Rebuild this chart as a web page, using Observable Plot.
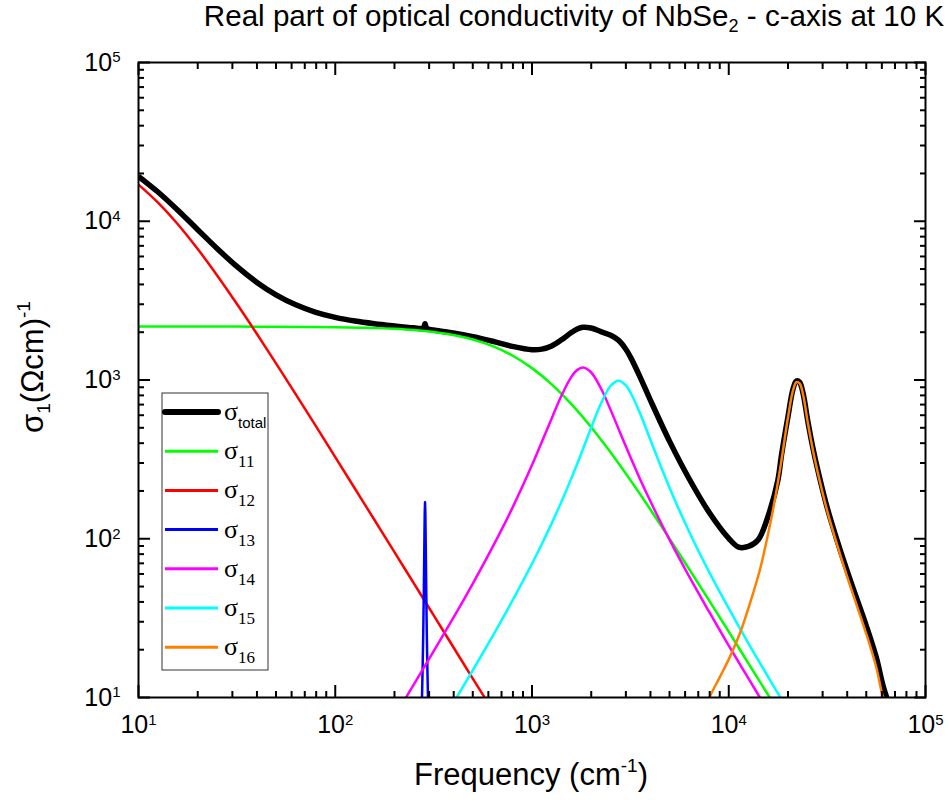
<!DOCTYPE html>
<html><head><meta charset="utf-8">
<script src="https://cdn.jsdelivr.net/npm/d3@7"></script>
<script src="https://cdn.jsdelivr.net/npm/@observablehq/plot@0.6"></script>
<style>body{margin:0;background:#fff}</style>
</head><body><div id="chart"></div>
<script>
// ---- data ----
const freqTotal = [10,12.6,15.8,20,25,31.6,40,50,63,79,100,126,158,200,251,275,282,284,286,288,290,296,316,398,501,631,794,1000,1122,1259,1413,1585,1700,1815,1995,2239,2512,2750,3000,3162,3548,3981,5012,6310,7943,10000,11220,12589,14125,15849,17783,18520,20010,21200,22060,22910,23830,25280,26810,28970,31920,35230,39560,44460,49980,56200,60700,64000];
const sigmaTotal = [19180,15224,11774,8850,6760,5190,4115,3438,2975,2680,2481,2352,2264,2192,2131,2113,2145,2199,2264,2195,2137,2093,2063,1981,1877,1755,1629,1552,1564,1639,1791,1993,2097,2149,2125,2017,1915,1783,1563,1398,1040,755,409,237,147,100.6,88.5,89.5,98.7,139,235,334,590,875,985,968,831,542,370,242,151,101,65,42.8,28.3,17.9,12.0,9.7];

const freq11 = [10,20,50,100,158,200,251,316,398,501,631,794,1000,1259,1585,1995,2512,3162,3981,5012,6310,7943,10000,12589,15849,17783];
const sigma11 = [2170,2170,2166,2152,2126,2100,2063,2005,1919,1798,1633,1427,1188,939,705,506,349,234,154,99.7,64,40.9,26,16.4,10.4,8.3];

const freq12 = [10,12.6,15.8,20,25,31.6,40,50,63,79,100,126,158,200,251,316,398,501,631];
const sigma12 = [17010,13054,9604,6680,4590,3020,1948,1272,812,521,327,206.6,131.7,82.3,52.3,33.0,20.8,13.1,8.3];

const freq13 = [266,272,276,278,280,282,284,285,286,287,288,290,292,294,296,300,306];
const sigma13 = [2.6,5.3,10,15.1,25.1,47.8,103.7,146.6,170,146.6,103.7,47.8,25.1,15.1,10,5.3,2.6];

const freq14 = [200,251,316,398,501,631,794,1000,1259,1413,1585,1700,1815,1995,2239,2512,2818,3162,3548,3981,5012,6310,7943,10000,12589,15849];
const sigma14 = [7.59,12.09,19.5,31.7,52.4,88.9,156,291,573,799,1046,1158,1197,1119,887,646,459,327,236.5,174,98,57.5,34.7,21.2,13.2,8.2];

const freq15 = [398,501,631,794,1000,1122,1259,1413,1585,1815,1995,2239,2512,2750,3000,3162,3548,3981,5012,6310,7943,10000,12589,15849,17783,19953];
const sigma15 = [9.23,14.9,24.4,40.6,69.6,92.6,125,171.8,240,367,498,708,920,990,925,837,613,425,208,110,61.9,36.4,21.9,13.5,10.6,8.3];

const freq16 = [7500,8010,8995,10110,11370,12790,14370,15840,17130,18520,20010,21200,22060,22910,23830,25280,26810,28970,31920,35230,39560,44460,49980,56200,60700,64000];
const sigma16 = [8,10.1,13.4,17.9,25.2,38.9,63.1,107,174,311,582,857,968,953,817,530,359,233,144,95,60,38.9,25.2,15.5,10.1,8.5];

const seriesNames = ["total","11","12","13","14","15","16"];
const seriesColors = ["#000000","#00ff00","#ff0000","#0000ff","#ff00ff","#00ffff","#ff8000"];
const majorTicks = [10,100,1000,10000,100000];
const minorTicks = [];
for (const d of [10,100,1000,10000]) for (let k = 2; k <= 9; k++) minorTicks.push(d*k);

// ---- build tables ----
const pairs = (f, s) => f.map((x, i) => ({f: x, s: s[i]}));
const series = [
  pairs(freqTotal, sigmaTotal), pairs(freq11, sigma11), pairs(freq12, sigma12),
  pairs(freq13, sigma13), pairs(freq14, sigma14), pairs(freq15, sigma15), pairs(freq16, sigma16)
];

const fmt = d => "10^" + Math.round(Math.log10(d));
const none = () => "";

const lineMarks = series.map((data, i) => Plot.line(data, {
  x: "f", y: "s", stroke: seriesColors[i],
  strokeWidth: i === 0 ? 5.5 : 2.5,
  curve: i === 3 ? "linear" : "catmull-rom",
  strokeLinejoin: "round", strokeLinecap: "butt", clip: true
}));

const axisMarks = [];
for (const anchor of ["bottom","top"]) {
  axisMarks.push(Plot.axisX({anchor, ticks: majorTicks, tickSize: -12, strokeWidth: 2, tickFormat: none, label: null}));
  axisMarks.push(Plot.axisX({anchor, ticks: minorTicks, tickSize: -6, strokeWidth: 2, tickFormat: none, label: null}));
}
for (const anchor of ["left","right"]) {
  axisMarks.push(Plot.axisY({anchor, ticks: majorTicks, tickSize: -12, strokeWidth: 2, tickFormat: none, label: null}));
  axisMarks.push(Plot.axisY({anchor, ticks: minorTicks, tickSize: -6, strokeWidth: 2, tickFormat: none, label: null}));
}
axisMarks.push(Plot.axisX({anchor: "bottom", ticks: majorTicks, tickSize: 0, tickPadding: 18, tickFormat: fmt, fontSize: 25, label: null}));
axisMarks.push(Plot.axisY({anchor: "left", ticks: majorTicks, tickSize: 0, tickPadding: 18, tickFormat: fmt, fontSize: 25, label: null}));

const svgNode = Plot.plot({
  width: 949, height: 803,
  marginLeft: 138, marginRight: 24, marginTop: 62, marginBottom: 106,
  x: {type: "log", domain: [10, 1e5]},
  y: {type: "log", domain: [10, 1e5]},
  style: {fontFamily: "'Liberation Sans', Arial, sans-serif", background: "#fff", color: "#000"},
  marks: [
    ...lineMarks,
    Plot.frame({stroke: "#000", strokeWidth: 2}),
    ...axisMarks
  ]
});
document.getElementById("chart").appendChild(svgNode);

const svg = d3.select(svgNode);
// superscripts on tick labels
svg.selectAll('g[aria-label="x-axis tick label"] text, g[aria-label="y-axis tick label"] text').each(function() {
  const t = d3.select(this);
  const s = t.text();
  if (!s.includes("^")) return;
  const [b, e] = s.split("^");
  t.text(null);
  t.append("tspan").text(b);
  t.append("tspan").attr("dy", "-0.55em").attr("font-size", "15px").text(e);
});

const ff = "'Liberation Sans', Arial, sans-serif";
// title
const title = svg.append("text").attr("x", 574).attr("y", 26).attr("text-anchor", "middle")
  .attr("font-family", ff).attr("font-size", 29.6).attr("fill", "#000");
title.append("tspan").text("Real part of optical conductivity of NbSe");
title.append("tspan").attr("font-size", 18).attr("dy", 6).text("2");
title.append("tspan").attr("dy", -6).text(" - c-axis at 10 K");

// x axis title
const xt = svg.append("text").attr("x", 531).attr("y", 785).attr("text-anchor", "middle")
  .attr("font-family", ff).attr("font-size", 31).attr("fill", "#000");
xt.append("tspan").text("Frequency (cm");
xt.append("tspan").attr("font-size", 19).attr("dy", -13).text("-1");
xt.append("tspan").attr("dy", 13).text(")");

// y axis title
const yt = svg.append("text").attr("transform", "translate(43,367) rotate(-90)").attr("text-anchor", "middle")
  .attr("font-family", ff).attr("font-size", 31).attr("fill", "#000");
yt.append("tspan").text("σ");
yt.append("tspan").attr("font-size", 19).attr("dy", 7).text("1");
yt.append("tspan").attr("dy", -7).text("(Ωcm)");
yt.append("tspan").attr("font-size", 19).attr("dy", -13).text("-1");

// legend
const lg = svg.append("g");
lg.append("rect").attr("x", 162).attr("y", 393).attr("width", 106).attr("height", 277)
  .attr("fill", "#fff").attr("stroke", "#333").attr("stroke-width", 1);
seriesNames.forEach((name, i) => {
  const cy = 412 + i * 39.2;
  lg.append("line").attr("x1", 165).attr("x2", 218).attr("y1", cy).attr("y2", cy)
    .attr("stroke", seriesColors[i]).attr("stroke-width", i === 0 ? 6 : 3)
    .attr("stroke-linecap", i === 0 ? "round" : "butt");
  const t = lg.append("text").attr("x", 224).attr("y", cy + 8).attr("fill", "#000")
    .attr("text-anchor", "start")
    .attr("font-family", "'Liberation Serif', 'Times New Roman', serif").attr("font-size", 26);
  t.append("tspan").text("σ");
  t.append("tspan").attr("dy", 8).attr("font-size", i === 0 ? 15 : 17)
    .attr("font-family", i === 0 ? ff : "'Liberation Serif', serif").text(name);
});
</script></body></html>
